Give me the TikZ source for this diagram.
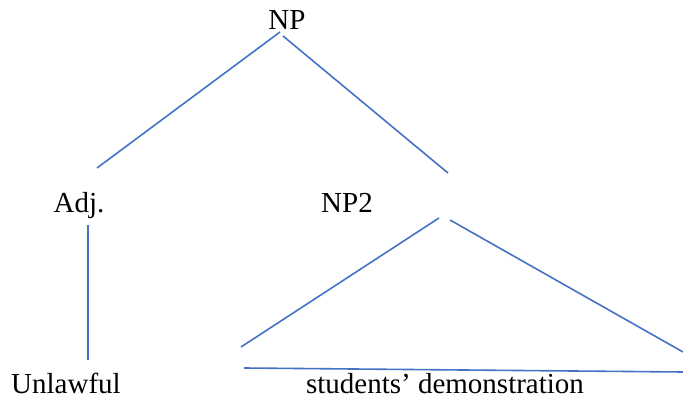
\documentclass[tikz,border=0pt]{standalone}
\usepackage{fontspec}
\setmainfont{Liberation Serif}
\definecolor{lineblue}{HTML}{4472C4}
\begin{document}
\begin{tikzpicture}[x=1pt,y=-1pt,
  lbl/.style={inner sep=0pt,anchor=base,font=\fontsize{29}{34}\selectfont},
  edge/.style={draw=lineblue,line width=1.6pt}]
\useasboundingbox (0,0) rectangle (683,398);
\node[lbl] (np) at (287,30) {NP};
\node[lbl] (adj) at (79,213) {Adj.};
\node[lbl] (np2) at (347,213) {NP2};
\node[lbl] (unl) at (66,393) {Unlawful};
\node[lbl] (sd) at (445,393) {students’ demonstration};
\coordinate (a1) at (280,32);
\coordinate (a2) at (97,168);
\coordinate (b1) at (283,36);
\coordinate (b2) at (448,173);
\coordinate (c1) at (88,225);
\coordinate (c2) at (88,360);
\coordinate (t1) at (439,218);
\coordinate (t2) at (241,347);
\coordinate (t3) at (450,220);
\coordinate (t4) at (683,352);
\coordinate (u1) at (244,368);
\coordinate (u2) at (683,372);
\draw[edge] (a1) -- (a2);
\draw[edge] (b1) -- (b2);
\draw[edge] (c1) -- (c2);
\draw[edge] (t1) -- (t2);
\draw[edge] (t3) -- (t4);
\draw[edge] (u1) -- (u2);
\end{tikzpicture}
\end{document}
